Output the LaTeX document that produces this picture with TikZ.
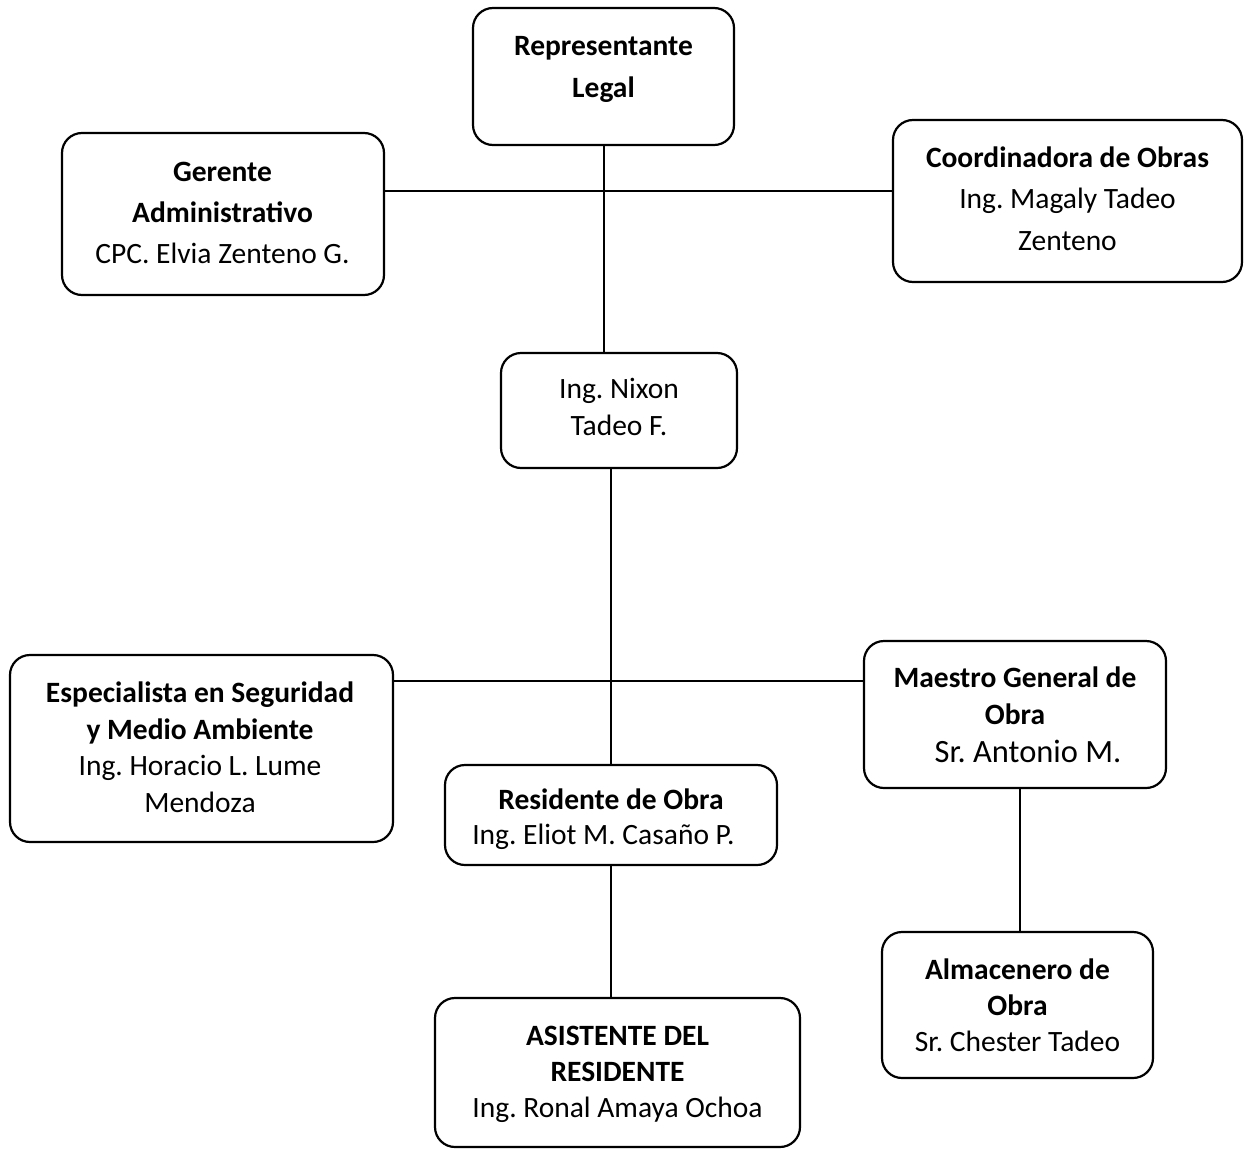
\documentclass[tikz,border=0pt]{standalone}
\usepackage{fontspec}
\setmainfont{Carlito}
\frenchspacing
\begin{document}
\begin{tikzpicture}[x=1pt,y=-1pt,
  box/.style={draw, line width=2.2pt, rounded corners=20pt, inner sep=0pt, minimum width=#1},
  box/.default=100pt,
  lbl/.style={align=center, inner sep=0pt},
  conn/.style={line width=2.2pt}]
\useasboundingbox (0,0) rectangle (1244,1148);
\fill[white] (0,0) rectangle (1244,1148);
% boxes
\node[box=261pt, minimum height=137pt] (rep) at (603.5,76.5) {};
\node[box=322pt, minimum height=162pt] (ger) at (223,214) {};
\node[box=349pt, minimum height=162pt] (coo) at (1067.5,201) {};
\node[box=236pt, minimum height=115pt] (nix) at (619,410.5) {};
\node[box=383pt, minimum height=187pt] (esp) at (201.5,748.5) {};
\node[box=302pt, minimum height=147pt] (mae) at (1015,714.5) {};
\node[box=332pt, minimum height=100pt] (res) at (611,815) {};
\node[box=271pt, minimum height=146pt] (alm) at (1017.5,1005) {};
\node[box=365pt, minimum height=149pt] (asi) at (617.5,1072.5) {};
% texts
\node[lbl, font={\fontsize{29.5}{42}\selectfont}] (repT) at (603.5,69) {\textbf{Representante}\\\textbf{Legal}};
\node[lbl, font={\fontsize{29.5}{41}\selectfont}] (gerT) at (222.5,213) {\textbf{Gerente}\\\textbf{Administrativo}\\CPC. Elvia Zenteno G.};
\node[lbl, font={\fontsize{29.5}{41.5}\selectfont}] (cooT) at (1067.5,198.5) {\textbf{Coordinadora de Obras}\\Ing. Magaly Tadeo\\Zenteno};
\node[lbl, font={\fontsize{29.5}{37}\selectfont}] (nixT) at (619,406.5) {Ing. Nixon\\Tadeo F.};
\node[lbl, font={\fontsize{29.5}{36.5}\selectfont}] (espT) at (200,747) {\textbf{Especialista en Seguridad}\\\textbf{y Medio Ambiente}\\Ing. Horacio L. Lume\\Mendoza};
\node[lbl, font={\fontsize{29.5}{37.5}\selectfont}] (maeT) at (1015,714.5) {\textbf{Maestro General de}\\\textbf{Obra}\\\hspace*{26pt}{\fontsize{32.5}{37.5}\selectfont Sr. Antonio M.}};
\node[lbl, font={\fontsize{29.5}{35}\selectfont}] (resT) at (611,819) {\textbf{Residente de Obra}\\Ing. Eliot M. Casaño P.\hspace*{15pt}};
\node[lbl, font={\fontsize{29.5}{36}\selectfont}] (almT) at (1017.5,1005) {\textbf{Almacenero de}\\\textbf{Obra}\\Sr. Chester Tadeo};
\node[lbl, font={\fontsize{29.5}{36}\selectfont}] (asiT) at (617.5,1074) {\textbf{ASISTENTE DEL}\\\textbf{RESIDENTE}\\Ing. Ronal Amaya Ochoa};
% junctions
\coordinate (j1) at (604,191);
\coordinate (j2) at (611,681);
\coordinate (j3) at (1020,0);
% connectors
\draw[conn] (rep.south -| j1) -- (nix.north -| j1);
\draw[conn] (ger.east |- j1) -- (coo.west |- j1);
\draw[conn] (nix.south -| j2) -- (res.north -| j2);
\draw[conn] (esp.east |- j2) -- (mae.west |- j2);
\draw[conn] (mae.south -| j3) -- (alm.north -| j3);
\draw[conn] (res.south -| j2) -- (asi.north -| j2);
\end{tikzpicture}
\end{document}
